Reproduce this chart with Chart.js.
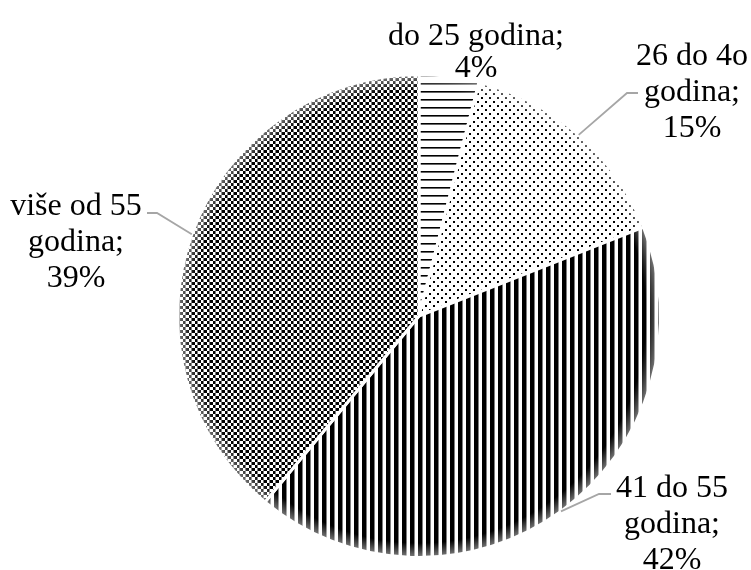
<!DOCTYPE html>
<html>
<head>
<meta charset="utf-8">
<script src="https://cdn.jsdelivr.net/npm/chart.js@4.4.0/dist/chart.umd.min.js"></script>
<style>
  html, body { margin: 0; padding: 0; background: #fff; }
  #grafikon { display: block; }
</style>
</head>
<body>
<canvas id="grafikon" width="751" height="570"></canvas>
<script>
// podaci
const kategorije = ['do 25 godina', '26 do 4o godina', '41 do 55 godina', 'više od 55 godina'];
const udjeli = [4, 15, 42, 39];
const oznake = [
    ['do 25 godina;'],
    ['26 do 4o', 'godina;'],
    ['41 do 55', 'godina;'],
    ['više od 55', 'godina;']
];

// raspored oznaka (x središte teksta, y prve linije, razmak, lakat linije)
const rasporedOznaka = [
    { x: 476, y: 45, razmak: 32, lakat: null },
    { x: 692, y: 65, razmak: 36, lakat: [627, 93, 638] },
    { x: 672, y: 497, razmak: 36, lakat: [599, 494, 611] },
    { x: 76, y: 215, razmak: 36, lakat: [157, 213, 147] }
];

function napraviUzorak(vrsta) {
    const c = document.createElement('canvas');
    const g = c.getContext('2d');
    if (vrsta === 'vodoravno') {
        c.width = 8; c.height = 8;
        g.fillStyle = '#fff'; g.fillRect(0, 0, 8, 8);
        g.fillStyle = '#000'; g.fillRect(0, 3, 8, 1.6);
    } else if (vrsta === 'tocke') {
        c.width = 8; c.height = 8;
        g.fillStyle = '#fff'; g.fillRect(0, 0, 8, 8);
        g.fillStyle = '#000';
        g.fillRect(1, 1, 2, 2);
        g.fillRect(5, 5, 2, 2);
    } else if (vrsta === 'okomito') {
        c.width = 8; c.height = 8;
        g.fillStyle = '#fff'; g.fillRect(0, 0, 8, 8);
        g.fillStyle = '#000'; g.fillRect(2, 0, 4.5, 8);
    } else {
        c.width = 6; c.height = 6;
        g.fillStyle = '#fff'; g.fillRect(0, 0, 6, 6);
        g.fillStyle = '#000';
        g.fillRect(0, 0, 3, 3);
        g.fillRect(3, 3, 3, 3);
        g.fillStyle = '#777';
        g.fillRect(5, 0, 1, 6);
    }
    return g.createPattern(c, 'repeat');
}

const ctx = document.getElementById('grafikon').getContext('2d');
const uzorci = ['vodoravno', 'tocke', 'okomito', 'sah'].map(napraviUzorak);

// sjena uz rub kruga
const sjenaRuba = {
    id: 'sjenaRuba',
    afterDatasetsDraw(chart) {
        const arc = chart.getDatasetMeta(0).data[0];
        if (!arc) return;
        const { x, y, outerRadius } = arc.getProps(['x', 'y', 'outerRadius'], true);
        const c = chart.ctx;
        const grad = c.createRadialGradient(x, y, outerRadius * 0.94, x, y, outerRadius);
        grad.addColorStop(0, 'rgba(255,255,255,0)');
        grad.addColorStop(1, 'rgba(255,255,255,0.5)');
        c.save();
        c.beginPath();
        c.arc(x, y, outerRadius, 0, Math.PI * 2);
        c.fillStyle = grad;
        c.fill();
        c.restore();
    }
};

// oznake s linijama
const oznakePlugin = {
    id: 'oznakePlugin',
    afterDraw(chart) {
        const c = chart.ctx;
        const meta = chart.getDatasetMeta(0);
        c.save();
        meta.data.forEach((arc, i) => {
            const p = arc.getProps(['x', 'y', 'startAngle', 'endAngle', 'outerRadius'], true);
            const r = rasporedOznaka[i];
            if (r.lakat) {
                const sred = (p.startAngle + p.endAngle) / 2;
                const ex = p.x + Math.cos(sred) * p.outerRadius;
                const ey = p.y + Math.sin(sred) * p.outerRadius;
                c.beginPath();
                c.strokeStyle = '#a6a6a6';
                c.lineWidth = 1.8;
                c.moveTo(ex, ey);
                c.lineTo(r.lakat[0], r.lakat[1]);
                c.lineTo(r.lakat[2], r.lakat[1]);
                c.stroke();
            }
            const linije = oznake[i].concat([udjeli[i] + '%']);
            c.fillStyle = '#000';
            c.font = '32px "Liberation Serif", "Times New Roman", serif';
            c.textAlign = 'center';
            c.textBaseline = 'alphabetic';
            linije.forEach((t, k) => c.fillText(t, r.x, r.y + k * r.razmak));
        });
        c.restore();
    }
};

new Chart(ctx, {
    type: 'pie',
    data: {
        labels: kategorije,
        datasets: [{
            data: udjeli,
            backgroundColor: uzorci,
            borderColor: '#fff',
            borderWidth: 3
        }]
    },
    options: {
        responsive: false,
        animation: false,
        layout: { padding: { top: 73, bottom: 11, left: 176, right: 89 } },
        plugins: {
            legend: { display: false },
            tooltip: { enabled: false }
        }
    },
    plugins: [sjenaRuba, oznakePlugin]
});
</script>
</body>
</html>
